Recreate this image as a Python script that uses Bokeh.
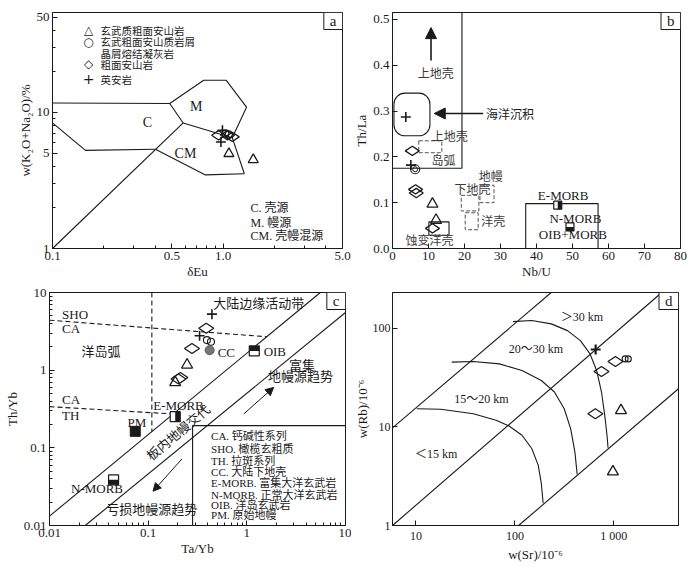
import math
from bokeh.plotting import figure
from bokeh.layouts import column, row
from bokeh.models import (Label, Arrow, NormalHead, FixedTicker, Range1d, CustomJSTickFormatter)
from bokeh.embed import file_html
from bokeh.resources import INLINE

SERIF = "Liberation Serif, Noto Sans CJK SC"
CJK = "Noto Sans CJK SC, Liberation Serif"
SYM = "DejaVu Sans"
INK = "#1a1a1a"
GRAY = "#3a3a3a"

# ---------------- panel a : δEu vs w(K2O+Na2O) ----------------
a_xlim = (0.1, 5.0)
a_ylim = (1.0, 54.0)
a_xticks = [0.1, 0.5, 1.0, 5.0]
a_yticks = [1, 5, 10, 50]
a_tri_x = [1.08, 1.50]
a_tri_y = [4.97, 4.49]
a_cir_x = [1.03, 1.08]
a_cir_y = [6.97, 6.89]
a_dia_x = [0.94, 1.06, 1.13]
a_dia_y = [6.78, 6.78, 6.60]
a_plus_x = [0.99, 0.97]
a_plus_y = [7.37, 6.05]
a_ctop_x = [0.1, 0.486, 0.583]
a_ctop_y = [11.7, 11.6, 8.35]
a_m_x = [0.486, 0.769, 1.04, 1.37, 1.13, 1.33]
a_m_y = [11.6, 17.2, 17.2, 10.9, 6.51, 3.54]
a_mcm_x = [0.583, 1.13]
a_mcm_y = [8.35, 6.51]
a_cm_x = [0.401, 0.787, 1.33]
a_cm_y = [5.35, 3.47, 3.54]
a_clow_x = [0.1, 0.156, 0.401]
a_clow_y = [8.35, 5.25, 5.35]
a_diag_x = [0.1, 0.583]
a_diag_y = [1.0, 8.35]
a_leg_sym = ["△", "○", "", "◇", "+"]
a_leg_txt = ["玄武质粗面安山岩", "玄武粗面安山质岩屑", "晶屑熔结凝灰岩", "粗面安山岩", "英安岩"]

# ---------------- panel b : Nb/U vs Th/La ----------------
b_xlim = (0, 80)
b_ylim = (0, 0.515)
b_xticks = [0, 10, 20, 30, 40, 50, 60, 70, 80]
b_yticks = [0.0, 0.1, 0.2, 0.3, 0.4, 0.5]
b_dia_x = [5.5, 6.4, 6.6, 11.1]
b_dia_y = [0.213, 0.129, 0.121, 0.044]
b_tri_x = [11.1, 12.1]
b_tri_y = [0.097, 0.062]
b_cir_x = [6.3]
b_cir_y = [0.173]
b_plus_x = [5.1]
b_plus_y = [0.182]
b_sed_x = [3.7]
b_sed_y = [0.287]
b_emorb = (45.9, 0.0945)
b_nmorb = (49.3, 0.047)
b_ucrust_x = [0, 19.3, 19.3]
b_ucrust_y = [0.175, 0.175, 0.515]
b_sedbox = (0.4, 10.4, 0.246, 0.339)
b_dash_x0 = [7.3, 19.1, 24.3, 20.2]
b_dash_x1 = [13.7, 24.0, 28.2, 23.8]
b_dash_y0 = [0.209, 0.082, 0.100, 0.041]
b_dash_y1 = [0.235, 0.116, 0.138, 0.078]
b_box_x0 = [10.1, 37.0]
b_box_x1 = [15.7, 57.1]
b_box_y0 = [0.029, 0.0]
b_box_y1 = [0.058, 0.098]

# ---------------- panel c : Ta/Yb vs Th/Yb ----------------
c_lim = (0.01, 10)
c_ticks = [0.01, 0.1, 1, 10]
c_tri_x = [0.248, 0.188]
c_tri_y = [1.17, 0.695]
c_dia_x = [0.388, 0.278, 0.212, 0.203]
c_dia_y = [3.47, 1.90, 0.806, 0.77]
c_cir_x = [0.394, 0.433]
c_cir_y = [2.44, 2.32]
c_plus_x = [0.443, 0.332]
c_plus_y = [5.26, 2.77]
c_pm = (0.074, 0.163)
c_cc = (0.42, 1.81)
c_nmorb = (0.0446, 0.0387)
c_emorb = (0.188, 0.252)
c_oib = (1.19, 1.77)
c_diag1_x = [0.01, 5.56]
c_diag1_y = [0.0132, 10]
c_diag2_x = [0.023, 10]
c_diag2_y = [0.01, 5.52]
c_shoca_x = [0.01, 1.6]
c_shoca_y = [4.4, 2.69]
c_cath_x = [0.01, 0.178]
c_cath_y = [0.339, 0.273]
c_vert_x = [0.109, 0.109]
c_vert_y = [10, 0.162]
c_box_x = [0.282, 0.282, 10]
c_box_y = [0.01, 0.193, 0.193]
c_leg_txt = ["CA. 钙碱性系列", "SHO. 橄榄玄粗质", "TH. 拉斑系列", "CC. 大陆下地壳",
             "E-MORB. 富集大洋玄武岩", "N-MORB. 正常大洋玄武岩", "OIB. 洋岛玄武岩", "PM. 原始地幔"]

# ---------------- panel d : w(Sr) vs w(Rb) ----------------
d_xlim = (5.8, 4500)
d_ylim = (1.0, 231)
d_xticks = [10, 100, 1000]
d_yticks = [1, 10, 100]
d_tri_x = [1180, 978]
d_tri_y = [14.7, 3.51]
d_dia_x = [750, 1038, 650]
d_dia_y = [36.5, 46.1, 13.6]
d_cir_x = [1300, 1400]
d_cir_y = [49, 49]
d_plus_x = [655]
d_plus_y = [61]
d_l1_x = [5.8, 233]
d_l1_y = [9.77, 231]
d_l2_x = [5.8, 3050]
d_l2_y = [1.0, 231]
d_l3_x = [109, 4500]
d_l3_y = [1.0, 24.4]
d_k1_x = [10.2, 17.9, 38, 64.6, 87.3, 118, 148, 172, 185, 193]
d_k1_y = [15.3, 15.1, 13.6, 11.7, 10.2, 8.24, 6.04, 4.1, 2.67, 1.68]
d_k2_x = [23, 38, 69.7, 118, 185, 251, 315, 366, 404, 426]
d_k2_y = [45.4, 46.1, 43.6, 37.4, 29.6, 22.6, 15.3, 9.6, 5.59, 3.3]
d_k3_x = [95.5, 148, 233, 340, 459, 575, 670, 750, 809, 853, 873]
d_k3_y = [117, 120, 111, 94.8, 75.1, 55, 37.4, 22.6, 13.1, 8.24, 6.14]


def make_fig(width, height, xr, yr, xtype, ytype, bl, br, bt, bb, tick_size="13px"):
    p = figure(width=width, height=height, x_range=Range1d(*xr), y_range=Range1d(*yr),
               x_axis_type=xtype, y_axis_type=ytype, output_backend="svg",
               toolbar_location=None, min_border_left=bl, min_border_right=br,
               min_border_top=bt, min_border_bottom=bb)
    p.xgrid.visible = False
    p.ygrid.visible = False
    p.outline_line_color = INK
    p.outline_line_width = 1
    p.background_fill_color = "white"
    p.border_fill_color = "white"
    for ax in (p.xaxis[0], p.yaxis[0]):
        ax.axis_line_color = INK
        ax.major_tick_line_color = INK
        ax.minor_tick_line_color = INK
        ax.major_tick_in = 5
        ax.major_tick_out = 0
        ax.minor_tick_in = 3
        ax.minor_tick_out = 0
        ax.major_label_text_font = SERIF
        ax.major_label_text_font_size = tick_size
        ax.major_label_text_color = INK
        ax.axis_label_text_font = SERIF
        ax.axis_label_text_font_size = "13px"
        ax.axis_label_text_font_style = "normal"
        ax.axis_label_text_color = INK
        ax.major_label_standoff = 3
        ax.axis_label_standoff = 1
    return p


def txt(p, x, y, s, size=13, align="center", baseline="middle", font=SERIF, color=INK, angle=0.0):
    p.add_layout(Label(x=x, y=y, text=s, text_font=font, text_font_size=f"{size}px",
                       text_align=align, text_baseline=baseline, text_color=color, angle=angle))


def corner(p, x, y, s):
    p.add_layout(Label(x=x, y=y, text=s, text_font=SERIF, text_font_size="15px",
                       text_color=INK, anchor="top_right",
                       padding=dict(left=6, right=6, top=0, bottom=1),
                       border_line_color=INK, border_line_width=1,
                       background_fill_color="white"))


def half_square(p, pt, part, xpx, ypx, xlog, ylog, size=10):
    x, y = pt
    h = size / 2.0

    def sh(v, d, s, lg):
        return v * 10 ** (d / s) if lg else v + d / s
    l, r = sh(x, -h, xpx, xlog), sh(x, h, xpx, xlog)
    b, t = sh(y, -h, ypx, ylog), sh(y, h, ypx, ylog)
    if part == "bottom":
        t = y
    elif part == "top":
        b = y
    elif part == "right":
        l = x
    p.scatter([x], [y], marker="square", size=size, fill_color="white", line_color=None)
    p.quad(left=[l], right=[r], bottom=[b], top=[t], fill_color=INK, line_color=None)
    p.scatter([x], [y], marker="square", size=size, fill_color=None, line_color=INK, line_width=1.2)


def arrow(p, x0, y0, x1, y1, size=9, lw=1.2):
    p.add_layout(Arrow(end=NormalHead(size=size, fill_color=INK, line_color=INK, line_width=1),
                       x_start=x0, y_start=y0, x_end=x1, y_end=y1,
                       line_color=INK, line_width=lw))


LW = 1.1
DIA = math.pi / 2

# ================= panel a =================
pa = make_fig(351, 284, a_xlim, a_ylim, "log", "log", 52, 9, 12, 36)
pa.xaxis.ticker = FixedTicker(ticks=a_xticks, minor_ticks=[0.2, 0.3, 0.4, 0.6, 0.7, 0.8, 0.9, 2, 3, 4])
pa.yaxis.ticker = FixedTicker(ticks=a_yticks, minor_ticks=[2, 3, 4, 6, 7, 8, 9, 20, 30, 40])
pa.xaxis.formatter = CustomJSTickFormatter(code="return tick.toFixed(1)")
pa.yaxis.formatter = CustomJSTickFormatter(code="return String(tick)")
pa.xaxis.axis_label = "δEu"
pa.yaxis.axis_label = "w(K₂O+Na₂O)/%"
for xs, ys in [(a_ctop_x, a_ctop_y), (a_m_x, a_m_y), (a_mcm_x, a_mcm_y), (a_cm_x, a_cm_y),
               (a_clow_x, a_clow_y), (a_diag_x, a_diag_y)]:
    pa.line(xs, ys, line_color=INK, line_width=LW)
pa.scatter(a_tri_x, a_tri_y, marker="triangle", size=10, fill_color=None, line_color=INK, line_width=1.3)
pa.scatter(a_dia_x, a_dia_y, marker="diamond", angle=DIA, size=14, fill_color=None, line_color=INK, line_width=1.3)
pa.scatter(a_cir_x, a_cir_y, marker="circle", size=7, fill_color=None, line_color=INK, line_width=1.2)
pa.scatter(a_plus_x, a_plus_y, marker="cross", size=10, line_color=INK, line_width=1.6)
# legend (symbol + text), positions in data space of the panel
leg_rows_y = [40.1, 32.9, 26.9, 22.5, 17.5]
for sym, s, yy in zip(a_leg_sym, a_leg_txt, leg_rows_y):
    if sym:
        txt(pa, 0.1626, yy, sym, 12 if sym != "+" else 14, font=SYM, color=INK)
    txt(pa, 0.191, yy, s, 10.5, align="left", font=CJK)
txt(pa, 0.695, 11.1, "M", 14)
txt(pa, 0.36, 8.35, "C", 14)
txt(pa, 0.601, 5.0, "CM", 14)
txt(pa, 1.445, 1.97, "C. 壳源", 12, align="left")
txt(pa, 1.445, 1.55, "M. 幔源", 12, align="left")
txt(pa, 1.445, 1.24, "CM. 壳幔混源", 12, align="left")
corner(pa, a_xlim[1], a_ylim[1], "a")

# ================= panel b =================
pb = make_fig(349, 284, b_xlim, b_ylim, "linear", "linear", 35, 20, 12, 36)
pb.xaxis.ticker = FixedTicker(ticks=b_xticks, minor_ticks=[])
pb.yaxis.ticker = FixedTicker(ticks=b_yticks, minor_ticks=[])
pb.yaxis.formatter = CustomJSTickFormatter(code="return tick.toFixed(1)")
pb.xaxis.axis_label = "Nb/U"
pb.yaxis.axis_label = "Th/La"
pb.line(b_ucrust_x, b_ucrust_y, line_color=INK, line_width=LW)
pb.quad(left=[b_sedbox[0]], right=[b_sedbox[1]], bottom=[b_sedbox[2]], top=[b_sedbox[3]],
        fill_color=None, line_color=INK, line_width=LW, border_radius=11)
pb.quad(left=b_dash_x0, right=b_dash_x1, bottom=b_dash_y0, top=b_dash_y1,
        fill_color=None, line_color="#555555", line_width=1, line_dash="4 2")
pb.quad(left=b_box_x0, right=b_box_x1, bottom=b_box_y0, top=b_box_y1,
        fill_color=None, line_color=INK, line_width=LW)
arrow(pb, 10.7, 0.41, 10.7, 0.482, size=11, lw=1.6)
arrow(pb, 25.2, 0.2946, 11.6, 0.2946, size=11, lw=1.6)
pb.scatter(b_sed_x, b_sed_y, marker="cross", size=10, line_color=INK, line_width=1.6)
pb.scatter(b_dia_x, b_dia_y, marker="diamond", angle=DIA, size=14, fill_color=None, line_color=INK, line_width=1.3)
pb.scatter(b_tri_x, b_tri_y, marker="triangle", size=11, fill_color=None, line_color=INK, line_width=1.3)
pb.scatter(b_cir_x, b_cir_y, marker="circle", size=9, fill_color=None, line_color=INK, line_width=1.1)
pb.scatter(b_cir_x, b_cir_y, marker="circle", size=5, fill_color=None, line_color=INK, line_width=1.0)
pb.scatter(b_plus_x, b_plus_y, marker="cross", size=10, line_color=INK, line_width=1.6)
bxp = 294 / (b_xlim[1] - b_xlim[0])
byp = 236 / (b_ylim[1] - b_ylim[0])
half_square(pb, b_emorb, "right", bxp, byp, False, False, size=8)
half_square(pb, b_nmorb, "bottom", bxp, byp, False, False, size=8)
txt(pb, 12.0, 0.385, "上地壳", 12, font=CJK, color=GRAY)
txt(pb, 26.0, 0.295, "海洋沉积", 12, align="left", font=CJK, color=INK)
txt(pb, 15.9, 0.247, "上地壳", 12, font=CJK, color=GRAY)
txt(pb, 14.2, 0.194, "岛弧", 12, font=CJK, color=GRAY)
txt(pb, 27.3, 0.160, "地幔", 12, font=CJK, color=GRAY)
txt(pb, 22.2, 0.131, "下地壳", 12, font=CJK, color=GRAY)
txt(pb, 28.0, 0.062, "洋壳", 12, font=CJK, color=GRAY)
txt(pb, 10.3, 0.0196, "蚀变洋壳", 12, font=CJK, color=GRAY)
txt(pb, 47.4, 0.116, "E-MORB", 13)
txt(pb, 50.8, 0.065, "N-MORB", 13)
txt(pb, 50.1, 0.0305, "OIB+MORB", 13)
corner(pb, b_xlim[1], b_ylim[1], "b")

# ================= panel c =================
pc = make_fig(351, 284, c_lim, c_lim, "log", "log", 49, 6, 8, 43)
c_minor = [k * 10.0 ** e for e in (-2, -1, 0) for k in range(2, 10)]
pc.xaxis.ticker = FixedTicker(ticks=c_ticks, minor_ticks=c_minor)
pc.yaxis.ticker = FixedTicker(ticks=c_ticks, minor_ticks=c_minor)
pc.xaxis.formatter = CustomJSTickFormatter(code="return String(tick)")
pc.yaxis.formatter = CustomJSTickFormatter(code="return String(tick)")
pc.xaxis.axis_label = "Ta/Yb"
pc.yaxis.axis_label = "Th/Yb"
pc.line(c_diag1_x, c_diag1_y, line_color=INK, line_width=LW)
pc.line(c_diag2_x, c_diag2_y, line_color=INK, line_width=LW)
pc.line(c_box_x, c_box_y, line_color=INK, line_width=LW)
for xs, ys in [(c_shoca_x, c_shoca_y), (c_cath_x, c_cath_y), (c_vert_x, c_vert_y)]:
    pc.line(xs, ys, line_color=INK, line_width=LW, line_dash="5 3")
arrow(pc, 0.93, 0.273, 1.87, 0.60, size=8, lw=1.0)
arrow(pc, 0.22, 0.072, 0.112, 0.0276, size=8, lw=1.0)
cxp = 296 / 3.0
cyp = 233 / 3.0
pc.scatter([c_pm[0]], [c_pm[1]], marker="square", size=10, fill_color=INK, line_color=INK)
half_square(pc, c_nmorb, "bottom", cxp, cyp, True, True, size=10)
half_square(pc, c_emorb, "right", cxp, cyp, True, True, size=10)
half_square(pc, c_oib, "top", cxp, cyp, True, True, size=10)
pc.scatter(c_dia_x, c_dia_y, marker="diamond", angle=DIA, size=15, fill_color="white", line_color=INK, line_width=1.3)
pc.scatter(c_tri_x, c_tri_y, marker="triangle", size=11, fill_color=None, line_color=INK, line_width=1.3)
pc.scatter(c_cir_x, c_cir_y, marker="circle", size=7, fill_color=None, line_color=INK, line_width=1.1)
pc.scatter([c_cc[0]], [c_cc[1]], marker="circle", size=9, fill_color="#777777", line_color="#555555")
pc.scatter(c_plus_x, c_plus_y, marker="cross", size=10, line_color=INK, line_width=1.6)
txt(pc, 1.32, 7.4, "大陆边缘活动带", 13, font=CJK)
txt(pc, 0.0134, 5.26, "SHO", 13, align="left")
txt(pc, 0.0134, 3.47, "CA", 13, align="left")
txt(pc, 0.0333, 1.81, "洋岛弧", 13, font=CJK)
txt(pc, 0.0134, 0.413, "CA", 13, align="left")
txt(pc, 0.0134, 0.26, "TH", 13, align="left")
txt(pc, 0.506, 1.69, "CC", 13, align="left")
txt(pc, 1.48, 1.72, "OIB", 13, align="left")
txt(pc, 3.63, 1.17, "富集", 13, font=CJK)
txt(pc, 3.49, 0.85, "地幔源趋势", 13, font=CJK)
txt(pc, 0.203, 0.348, "E-MORB", 13)
txt(pc, 0.0769, 0.213, "PM", 13)
txt(pc, 0.0303, 0.0297, "N-MORB", 13)
txt(pc, 0.109, 0.0164, "亏损地幔源趋势", 13, font=CJK)
txt(pc, 0.2, 0.16, "板内地幔交代", 13, font=CJK, angle=0.70)
c_leg_y = [0.1436, 0.0968, 0.0684, 0.0484, 0.035, 0.025, 0.0181, 0.0135]
for s, yy in zip(c_leg_txt, c_leg_y):
    txt(pc, 0.434, yy, s, 11, align="left")
corner(pc, c_lim[1], c_lim[1], "c")

# ================= panel d =================
pd_ = make_fig(349, 284, d_xlim, d_ylim, "log", "log", 33, 22, 7, 43, tick_size="12px")
pd_.yaxis[0].major_label_standoff = 2
pd_.yaxis[0].axis_label_standoff = 0
pd_.xaxis.ticker = FixedTicker(ticks=d_xticks, minor_ticks=[])
pd_.yaxis.ticker = FixedTicker(ticks=d_yticks, minor_ticks=[])
pd_.xaxis.formatter = CustomJSTickFormatter(code="return tick == 1000 ? '1 000' : String(tick)")
pd_.yaxis.formatter = CustomJSTickFormatter(code="return String(tick)")
pd_.xaxis.axis_label = "w(Sr)/10⁻⁶"
pd_.yaxis.axis_label = "w(Rb)/10⁻⁶"
for xs, ys in [(d_l1_x, d_l1_y), (d_l2_x, d_l2_y), (d_l3_x, d_l3_y),
               (d_k1_x, d_k1_y), (d_k2_x, d_k2_y), (d_k3_x, d_k3_y)]:
    pd_.line(xs, ys, line_color=INK, line_width=LW)
pd_.scatter(d_dia_x, d_dia_y, marker="diamond", angle=DIA, size=15, fill_color=None, line_color=INK, line_width=1.3)
pd_.scatter(d_tri_x, d_tri_y, marker="triangle", size=11, fill_color=None, line_color=INK, line_width=1.3)
pd_.scatter(d_cir_x, d_cir_y, marker="circle", size=6, fill_color=None, line_color=INK, line_width=1.1)
pd_.scatter(d_plus_x, d_plus_y, marker="cross", size=10, line_color=INK, line_width=2.2)
txt(pd_, 476, 129, "＞30 km", 12)
txt(pd_, 163, 61.8, "20～30 km", 12)
txt(pd_, 46, 19.3, "15～20 km", 12)
txt(pd_, 16, 5.3, "＜15 km", 12)
corner(pd_, d_xlim[1], d_ylim[1], "d")

layout = column(row(pa, pb), row(pc, pd_))
open("out.html", "w").write(file_html(layout, INLINE))
